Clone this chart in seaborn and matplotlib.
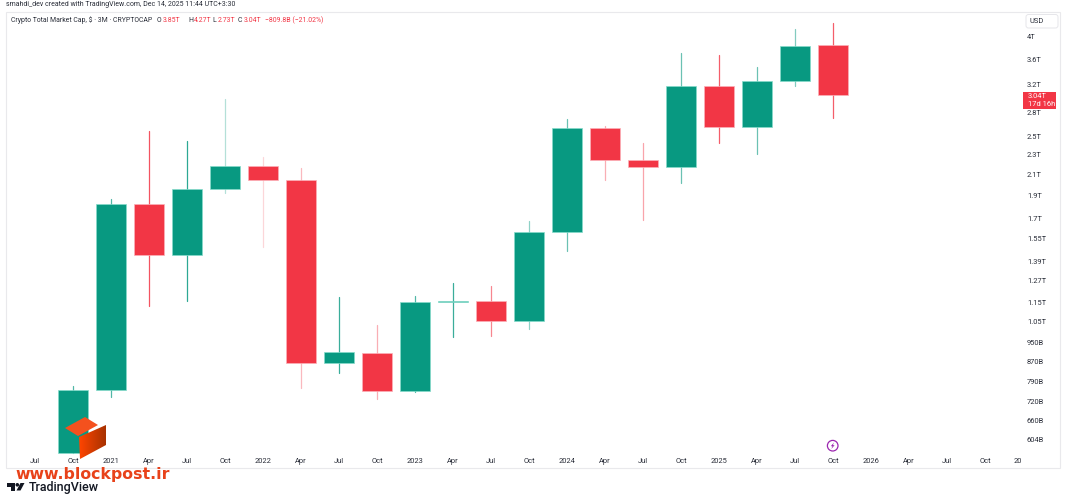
import numpy as np
import pandas as pd
import matplotlib
matplotlib.use("Agg")
import matplotlib.pyplot as plt
from matplotlib.patches import Circle, FancyBboxPatch, Polygon, Rectangle
from matplotlib.colors import LinearSegmentedColormap
import seaborn as sns

# Quarterly OHLC of total crypto market cap, in billions of USD
opens  = [566, 760, 1821, 1432, 1959, 2181, 2042, 865, 904, 757, 1153, 1157, 1054, 1598, 2604, 2243, 2170, 3172, 2616, 3252, 3850]
highs  = [774, 1864, 2567, 2453, 2988, 2278, 2161, 1179, 1031, 1183, 1256, 1240, 1683, 2715, 2632, 2430, 3715, 3675, 3478, 4153, 4270]
lows   = [566, 737, 1129, 1157, 1923, 1492, 767, 825, 730, 753, 977, 980, 1014, 1462, 2038, 1689, 2016, 2433, 2307, 3181, 2730]
closes = [760, 1821, 1432, 1959, 2181, 2042, 865, 908, 757, 1152, 1158, 1052, 1598, 2611, 2243, 2170, 3172, 2616, 3257, 3830, 3040]

wick_strength = [.7, .7, .85, .85, .3, .2, .35, .8, .4, .7, .8, .6, .45, .6, .4, .45, .6, .8, .6, .5, .8]

price_ticks = [4000, 3600, 3200, 2800, 2500, 2300, 2100, 1900, 1700, 1550, 1390, 1270, 1150, 1050,
               950, 870, 790, 720, 660, 604]
price_labels = ["4T", "3.6T", "3.2T", "2.8T", "2.5T", "2.3T", "2.1T", "1.9T", "1.7T", "1.55T", "1.39T",
                "1.27T", "1.15T", "1.05T", "950B", "870B", "790B", "720B", "660B", "604B"]

time_ticks = [-1, 0, 1, 2, 3, 4, 5, 6, 7, 8, 9, 10, 11, 12, 13, 14, 15, 16, 17, 18, 19, 20, 21, 22, 23, 24, 24.87]
time_labels = ["Jul", "Oct", "2021", "Apr", "Jul", "Oct", "2022", "Apr", "Jul", "Oct", "2023", "Apr", "Jul", "Oct",
               "2024", "Apr", "Jul", "Oct", "2025", "Apr", "Jul", "Oct", "2026", "Apr", "Jul", "Oct", "20"]

UP = "#089981"
DOWN = "#F23645"
TEXT = "#2a2e39"
SMALL = 5.4
HEAD = 4.95

sns.set_theme(style="white")
plt.rcParams["font.family"] = ["Roboto", "DejaVu Sans"]

W, H = 1066, 500
fig = plt.figure(figsize=(W / 100, H / 100), dpi=100, facecolor="white")
ax = fig.add_axes([8 / W, 1 - 468 / H, (1022 - 8) / W, (468 - 12) / H])
ax.set_yscale("log")

candles = pd.DataFrame({"slot": np.arange(len(opens)), "open": opens, "high": highs, "low": lows, "close": closes})
candles["bottom"] = candles[["open", "close"]].min(axis=1)
candles["span"] = (candles["close"] - candles["open"]).abs()
candles["rising"] = candles["close"] >= candles["open"]

# Wicks, one line per candle
for row, strength in zip(candles.itertuples(), wick_strength):
    wick = pd.DataFrame({"slot": [row.slot, row.slot], "price": [row.low, row.high]})
    sns.lineplot(data=wick, x="slot", y="price", ax=ax, color=UP if row.rising else DOWN,
                 alpha=strength, linewidth=0.9, estimator=None, sort=False, legend=False)

# Candle bodies
for rising, color, edge in [(True, UP, "#86dccb"), (False, DOWN, "#fbb0b8")]:
    part = candles[candles["rising"] == rising]
    sns.barplot(data=part, x="slot", y="span", bottom=part["bottom"].to_numpy(), native_scale=True,
                width=0.78, color=color, saturation=1, edgecolor=edge, linewidth=0.5, ax=ax,
                errorbar=None, zorder=3)

ax.set_xlim(-1.71, 24.97)
ax.set_ylim(527, 4499)
ax.minorticks_off()
ax.set_xticks(time_ticks, time_labels)
ax.set_yticks(price_ticks, price_labels)
ax.yaxis.tick_right()
ax.tick_params(axis="y", length=0, pad=3.5, labelsize=SMALL, labelcolor=TEXT, labelright=True, labelleft=False)
ax.tick_params(axis="x", length=0, pad=-7, labelsize=SMALL, labelcolor=TEXT)
ax.set_xlabel("")
ax.set_ylabel("")
sns.despine(ax=ax, left=True, right=True, top=True, bottom=True)
ax.patch.set_alpha(0)

# Annotation layer in figure pixels
top = fig.add_axes([0, 0, 1, 1], facecolor="none")
top.set_xlim(0, W)
top.set_ylim(H, 0)
top.axis("off")

top.add_patch(Rectangle((6, 12), 1054, 456, fill=False, edgecolor="#e9e9ec", linewidth=0.8))

top.text(6, 5, "smahdi_dev created with TradingView.com, Dec 14, 2025 11:44 UTC+3:30",
         fontsize=5.05, color=TEXT, va="center", ha="left")
top.text(11, 20, "Crypto Total Market Cap, $ · 3M · CRYPTOCAP", fontsize=HEAD, color=TEXT, va="center", ha="left")
for x_px, letter, value in [(157, "O", "3.85T"), (188, "H", "4.27T"), (212, "L", "2.73T"), (238, "C", "3.04T")]:
    top.text(x_px, 20, letter, fontsize=HEAD, color=TEXT, va="center", ha="left")
    top.text(x_px + 5.5, 20, value, fontsize=HEAD, color=DOWN, va="center", ha="left")
top.text(265, 20, "−809.8B (−21.02%)", fontsize=HEAD, color=DOWN, va="center", ha="left")

# Currency button and last-price tag
top.add_patch(FancyBboxPatch((1026, 14.5), 32, 13.5, boxstyle="round,pad=0,rounding_size=2.5",
                             facecolor="white", edgecolor="#e6e6ea", linewidth=0.7))
top.text(1030, 21.5, "USD", fontsize=SMALL, color=TEXT, va="center", ha="left")
top.add_patch(Rectangle((1023, 92), 33, 17, facecolor=DOWN, edgecolor="none"))
top.text(1028, 96.5, "3.04T", fontsize=SMALL, color="white", va="center", ha="left")
top.text(1028, 105, "17d 16h", fontsize=SMALL, color="white", va="center", ha="left")

# Event marker on the latest quarter
top.add_patch(Circle((832.7, 445.7), 5.3, facecolor="white", edgecolor="#9c27b0", linewidth=0.9))
top.add_patch(Polygon([(834, 442.5), (830.8, 446.2), (832.5, 446.2), (831.3, 449), (834.6, 445.2), (832.9, 445.2)],
                      closed=True, facecolor="#9c27b0", edgecolor="none"))

# Site watermark: an orange cube and its address
top.add_patch(Polygon([(65, 428), (85, 417), (98, 425), (78, 436)], closed=True, facecolor="#F4511E", edgecolor="none"))
fade = LinearSegmentedColormap.from_list("fade", ["#FF4500", "#A83200"])
face = Polygon([(79, 437), (106, 425), (106, 445), (80, 459)], closed=True, transform=top.transData, facecolor="none", edgecolor="none")
top.add_patch(face)
shade = top.imshow(np.linspace(0, 1, 64).reshape(1, -1), extent=(79, 106, 459, 425), cmap=fade, aspect="auto", zorder=2)
shade.set_clip_path(face)
top.set_xlim(0, W)
top.set_ylim(H, 0)
top.text(15, 474.5, "www.blockpost.ir", fontsize=11.3, fontweight="bold", family="DejaVu Sans",
         color="#E8421A", va="center", ha="left")

# Vendor logo at the foot
top.add_patch(Polygon([(7, 483), (15, 483), (15, 490.5), (11, 490.5), (11, 486.5), (7, 486.5)], closed=True,
                      facecolor="#131722", edgecolor="none"))
top.add_patch(Circle((17.3, 484.8), 1.8, facecolor="#131722", edgecolor="none"))
top.add_patch(Polygon([(20.5, 483), (24.5, 483), (20.5, 490.5), (16.5, 490.5)], closed=True, facecolor="#131722", edgecolor="none"))
top.text(29, 488, "TradingView", fontsize=9.0, fontweight="medium", color="#131722", va="center", ha="left")

fig.savefig("out.png", dpi=100)
